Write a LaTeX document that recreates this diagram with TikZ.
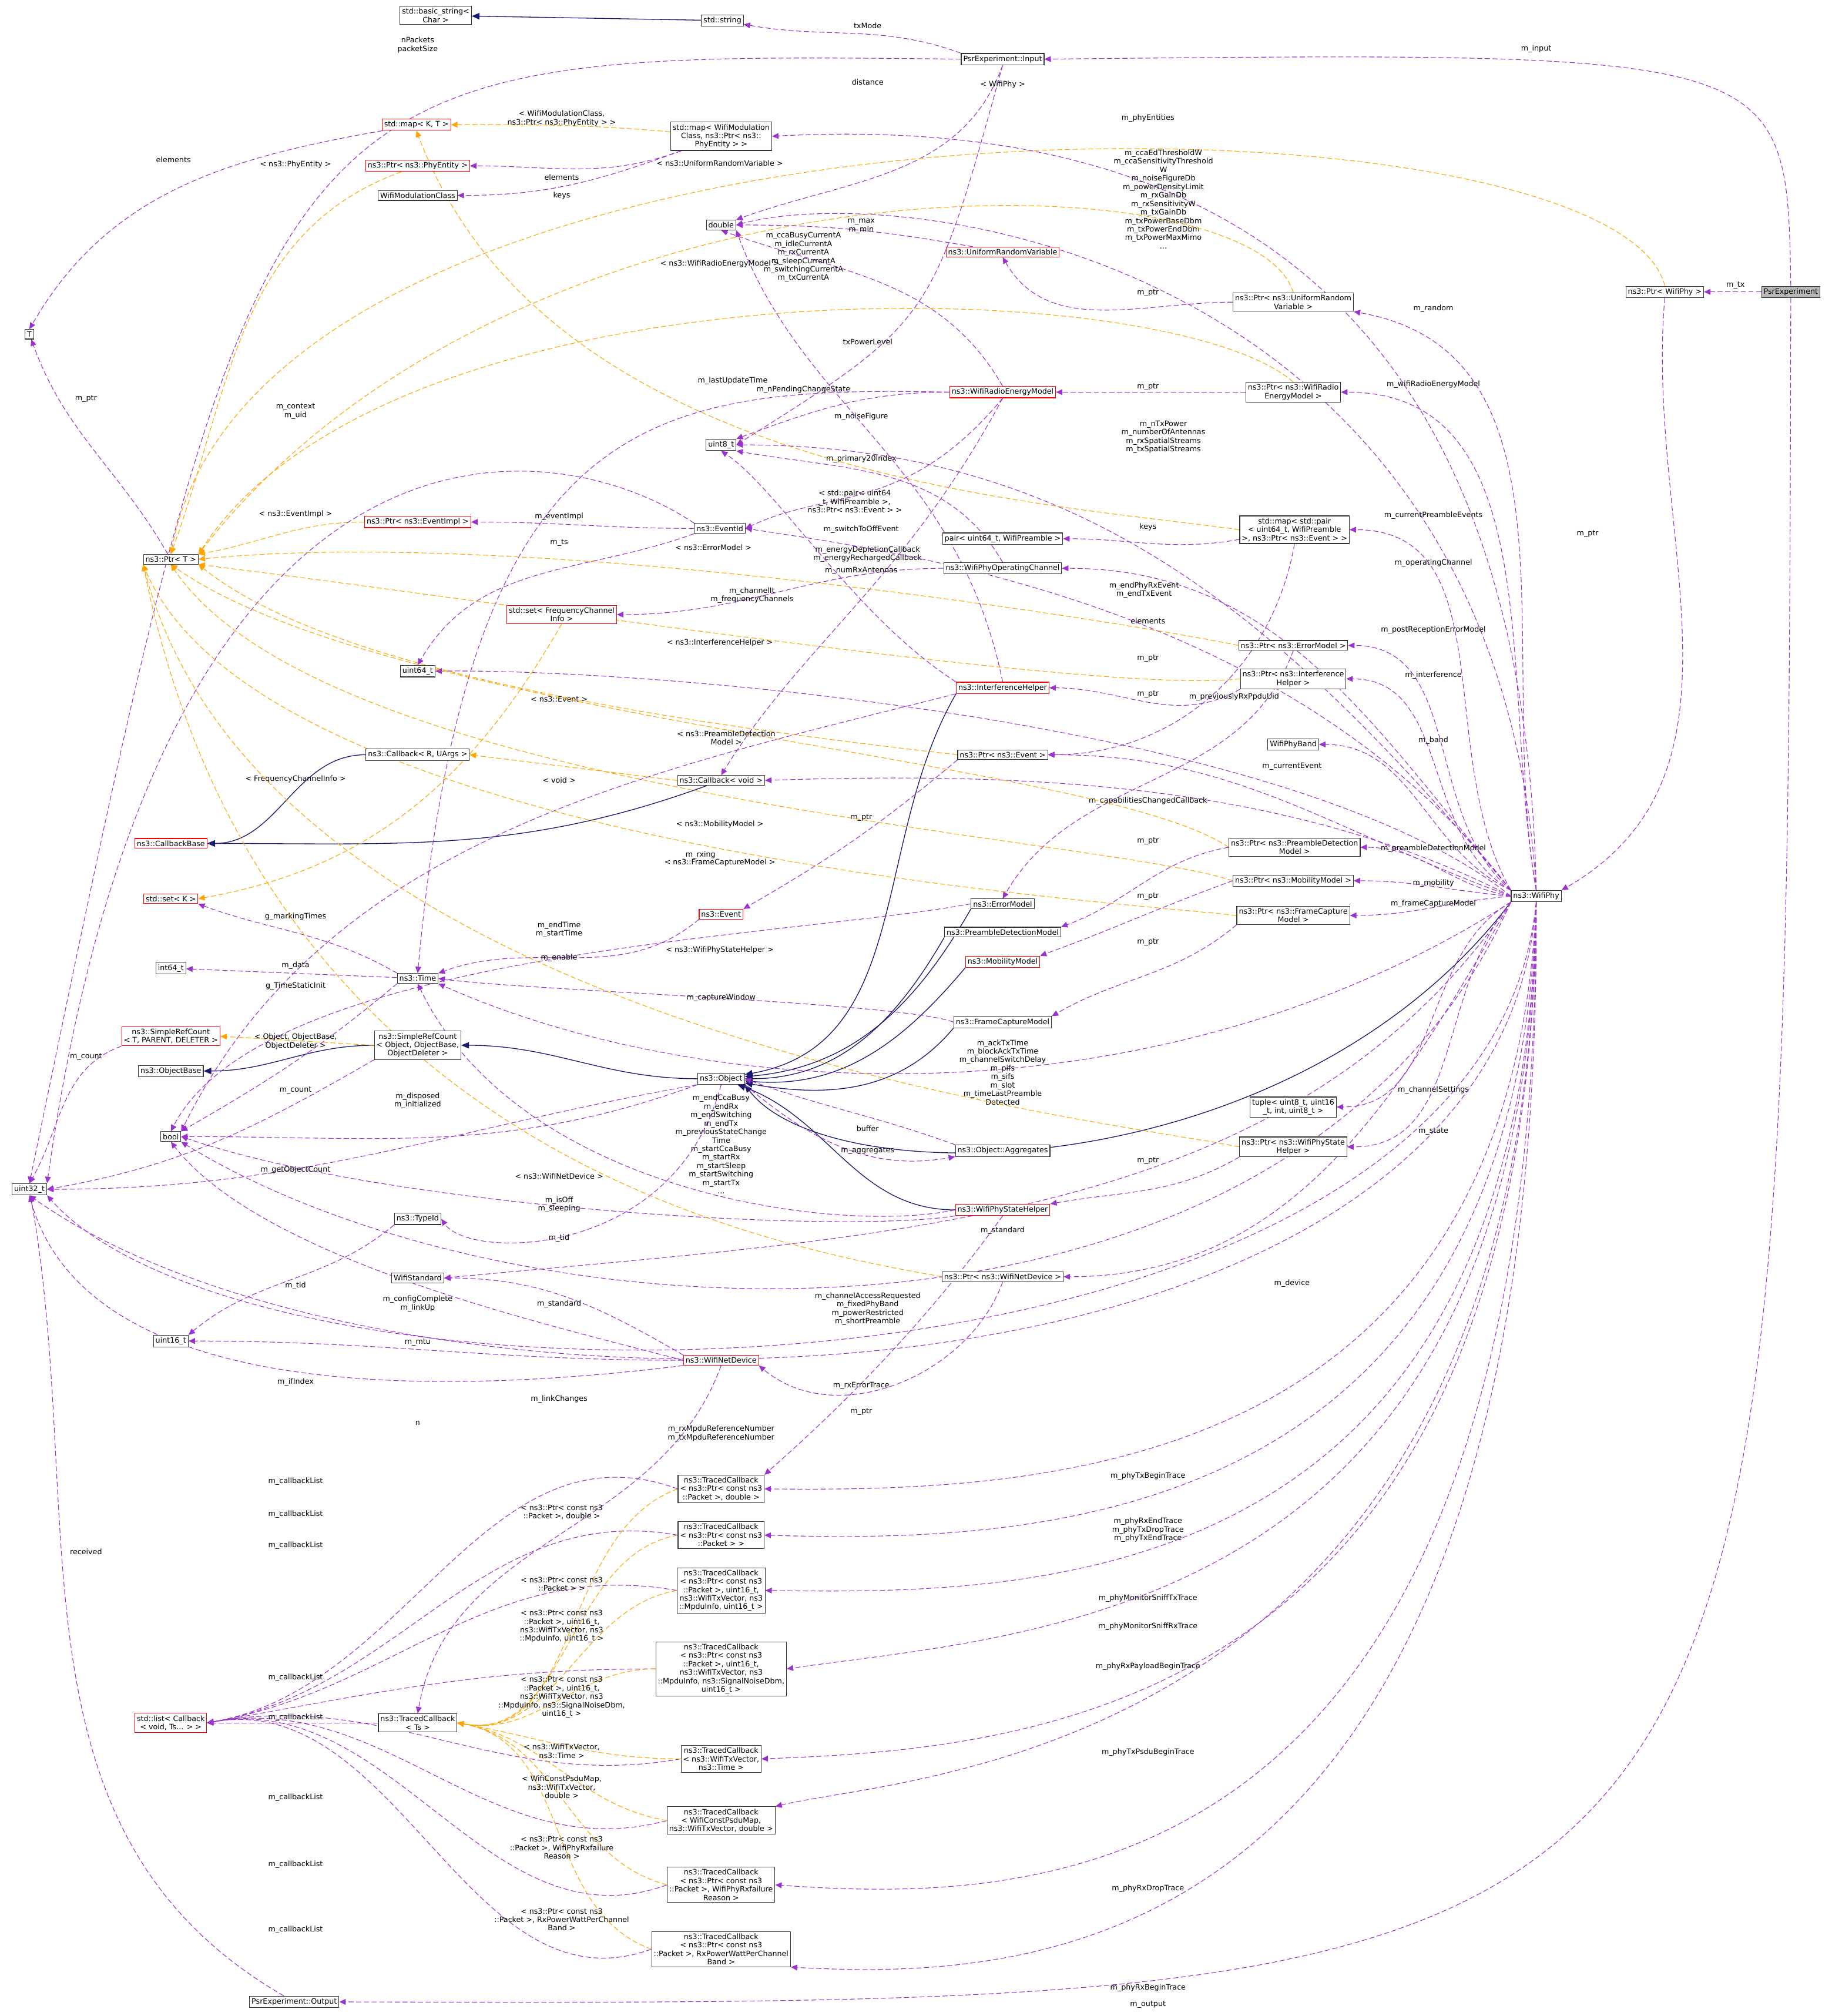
\documentclass[tikz,border=0pt]{standalone}
\usepackage{fontspec}
\setmainfont{DejaVu Sans}
\usetikzlibrary{arrows.meta}
\definecolor{pu}{HTML}{9A32CD}
\definecolor{mb}{HTML}{191970}
\definecolor{orn}{HTML}{FFA500}
\newcommand{\fs}{\fontsize{5.8}{6.6}\selectfont}
\pgfdeclarelayer{bgw}
\pgfdeclarelayer{edges}
\pgfsetlayers{bgw,edges,main}
\tikzset{
 box/.style={draw=black!80, fill=white, inner sep=1.6pt, align=center, font=\fs, line width=0.5pt},
 rbox/.style={box, draw=red},
 gbox/.style={box, fill=black!28},
 use/.style={draw=pu, dash pattern=on 4pt off 2pt, line width=0.5pt, -{Triangle[length=5pt,width=4.5pt]}},
 tm/.style={draw=orn, dash pattern=on 4pt off 2pt, line width=0.5pt, -{Triangle[length=5pt,width=4.5pt]}},
 inh/.style={draw=mb, line width=0.6pt, -{Triangle[length=6pt,width=5pt]}},
 lab/.style={font=\fs, align=center, inner sep=0pt}
}
\begin{document}
\begin{tikzpicture}[x=1pt,y=-1pt]
\begin{pgfonlayer}{bgw}
\useasboundingbox[fill=white] (0,0) rectangle (1420,1568);
\end{pgfonlayer}
% ---------- nodes
\node[box] (bstr) at (334,12) {std::basic\_string<\\Char >};
\node[box] (str) at (557,16) {std::string};
\node[box] (inp) at (775,46) {PsrExperiment::Input};
\node[box] (mapwm) at (556,106) {std::map< WifiModulation\\Class, ns3::Ptr< ns3::\\PhyEntity > >};
\node[rbox] (mapkt) at (319,97) {std::map< K, T >};
\node[rbox] (pphy) at (320,129) {ns3::Ptr< ns3::PhyEntity >};
\node[box] (wmc) at (320,152) {WifiModulationClass};
\node[box] (dbl) at (556,175) {double};
\node[rbox] (urv) at (775,196) {ns3::UniformRandomVariable};
\node[box] (purv) at (1001,235) {ns3::Ptr< ns3::UniformRandom\\Variable >};
\node[box] (T) at (18,260) {T};
\node[box] (pwp) at (1290,227) {ns3::Ptr< WifiPhy >};
\node[gbox] (psr) at (1388,227) {PsrExperiment};
\node[rbox] (wrem) at (775,305) {ns3::WifiRadioEnergyModel};
\node[box] (pwrem) at (1001,305) {ns3::Ptr< ns3::WifiRadio\\EnergyModel >};
\node[box] (u8) at (556,346) {uint8\_t};
\node[rbox] (pei) at (320,406) {ns3::Ptr< ns3::EventImpl >};
\node[box] (eid) at (555,411) {ns3::EventId};
\node[box] (mpair) at (1002,412) {std::map< std::pair\\< uint64\_t, WifiPreamble\\>, ns3::Ptr< ns3::Event > >};
\node[box] (pair) at (775,419) {pair< uint64\_t, WifiPreamble >};
\node[box] (opch) at (775,442) {ns3::WifiPhyOperatingChannel};
\node[box] (pT) at (128,435) {ns3::Ptr< T >};
\node[rbox] (sfc) at (432,478) {std::set< FrequencyChannel\\Info >};
\node[box] (pem) at (1001,502) {ns3::Ptr< ns3::ErrorModel >};
\node[box] (u64) at (320,522) {uint64\_t};
\node[box] (pih) at (1001,528) {ns3::Ptr< ns3::Interference\\Helper >};
\node[rbox] (ih) at (775,535) {ns3::InterferenceHelper};
\node[box] (band) at (1001,579) {WifiPhyBand};
\node[box] (pev) at (775,587) {ns3::Ptr< ns3::Event >};
\node[box] (cbr) at (320,587) {ns3::Callback< R, UArgs >};
\node[box] (cbv) at (556,607) {ns3::Callback< void >};
\node[rbox] (cbb) at (128,656) {ns3::CallbackBase};
\node[box] (ppd) at (1002,659) {ns3::Ptr< ns3::PreambleDetection\\Model >};
\node[box] (pmm) at (1001,685) {ns3::Ptr< ns3::MobilityModel >};
\node[box] (wp) at (1190,697) {ns3::WifiPhy};
\node[rbox] (setk) at (128,699) {std::set< K >};
\node[box] (em) at (775,703) {ns3::ErrorModel};
\node[box] (pfc) at (1001,712) {ns3::Ptr< ns3::FrameCapture\\Model >};
\node[rbox] (ev) at (556,711) {ns3::Event};
\node[box] (pdm) at (775,725) {ns3::PreambleDetectionModel};
\node[rbox] (mm) at (775,748) {ns3::MobilityModel};
\node[box] (i64) at (128,753) {int64\_t};
\node[box] (time) at (320,761) {ns3::Time};
\node[rbox] (srT) at (128,806) {ns3::SimpleRefCount\\< T, PARENT, DELETER >};
\node[box] (srO) at (320,813) {ns3::SimpleRefCount\\< Object, ObjectBase,\\ObjectDeleter >};
\node[box] (fcm) at (775,795) {ns3::FrameCaptureModel};
\node[box] (ob) at (128,833) {ns3::ObjectBase};
\node[box] (obj) at (556,839) {ns3::Object};
\node[box] (tup) at (1001,861) {tuple< uint8\_t, uint16\\\_t, int, uint8\_t >};
\node[box] (bool) at (128,884) {bool};
\node[box] (psh) at (1001,892) {ns3::Ptr< ns3::WifiPhyState\\Helper >};
\node[box] (agg) at (775,895) {ns3::Object::Aggregates};
\node[box] (u32) at (18,925) {uint32\_t};
\node[rbox] (sh) at (775,941) {ns3::WifiPhyStateHelper};
\node[box] (tid) at (320,948) {ns3::TypeId};
\node[box] (wstd) at (320,994) {WifiStandard};
\node[box] (pnd) at (775,993) {ns3::Ptr< ns3::WifiNetDevice >};
\node[box] (u16) at (128,1043) {uint16\_t};
\node[rbox] (nd) at (556,1058) {ns3::WifiNetDevice};
\node[box] (tc1) at (556,1158) {ns3::TracedCallback\\< ns3::Ptr< const ns3\\::Packet >, double >};
\node[box] (tc2) at (556,1194) {ns3::TracedCallback\\< ns3::Ptr< const ns3\\::Packet > >};
\node[box] (tc3) at (556,1237) {ns3::TracedCallback\\< ns3::Ptr< const ns3\\::Packet >, uint16\_t,\\ns3::WifiTxVector, ns3\\::MpduInfo, uint16\_t >};
\node[box] (tc4) at (556,1298) {ns3::TracedCallback\\< ns3::Ptr< const ns3\\::Packet >, uint16\_t,\\ns3::WifiTxVector, ns3\\::MpduInfo, ns3::SignalNoiseDbm,\\uint16\_t >};
\node[rbox] (lst) at (128,1340) {std::list< Callback\\< void, Ts... > >};
\node[box] (tcts) at (320,1340) {ns3::TracedCallback\\< Ts >};
\node[box] (tc5) at (556,1368) {ns3::TracedCallback\\< ns3::WifiTxVector,\\ns3::Time >};
\node[box] (tc6) at (556,1416) {ns3::TracedCallback\\< WifiConstPsduMap,\\ns3::WifiTxVector, double >};
\node[box] (tc7) at (556,1466) {ns3::TracedCallback\\< ns3::Ptr< const ns3\\::Packet >, WifiPhyRxfailure\\Reason >};
\node[box] (tc8) at (556,1516) {ns3::TracedCallback\\< ns3::Ptr< const ns3\\::Packet >, RxPowerWattPerChannel\\Band >};
\node[box] (out) at (224,1557) {PsrExperiment::Output};
\begin{pgfonlayer}{edges}
% ---------- inheritance
\draw[inh] (str) -- (bstr);
\draw[inh] (cbr) to[out=180,in=0] (cbb);
\draw[inh] (cbv) to[out=200,in=0] (cbb);
\draw[inh] (srO) to[out=180,in=0] (ob);
\draw[inh] (obj) to[out=180,in=0] (srO);
\draw[inh] (ih.south west) to[out=240,in=10] (obj);
\draw[inh] (em.south west) to[out=240,in=5] (obj);
\draw[inh] (pdm.south west) to[out=240,in=0] (obj);
\draw[inh] (mm.south west) to[out=230,in=-5] (obj);
\draw[inh] (fcm.south west) to[out=230,in=-10] (obj);
\draw[inh] (sh.west) to[out=180,in=-20] (obj);
\draw[inh] (wp.south west) .. controls (1000,925) and (640,930) .. (obj.south east);
% ---------- PsrExperiment
\draw[use] (psr.north) .. controls (1385,40) .. (inp.east);
\node[lab] at (1190,38) {m\_input};
\draw[use] (psr) -- (pwp);
\node[lab] at (1345,222) {m\_tx};
\draw[use] (psr.south) .. controls (1385,1560) .. (out.east);
\node[lab] at (888,1559) {m\_output};
\draw[use] (out) to[out=150,in=280] (u32);
\node[lab] at (62,1207) {received};
% Input
\draw[use] (inp.north west) to[out=160,in=-10] (str);
\node[lab] at (670,20) {txMode};
\draw[use] (inp.west) .. controls (200,40) .. (u32.north);
\node[lab] at (320,35) {nPackets\\packetSize};
\draw[use] (inp.south) to[out=250,in=20] (dbl.north east);
\node[lab] at (670,64) {distance};
\draw[use] (inp.south) .. controls (720,250) .. (u8.east);
\node[lab] at (670,266) {txPowerLevel};
% PtrWifiPhy
\draw[use] (pwp.south) to[out=265,in=30] (wp.north east);
\node[lab] at (1230,415) {m\_ptr};
\draw[tm] (pwp.north) .. controls (1250,60) and (200,50) .. (pT.north);
\node[lab] at (775,66) {< WifiPhy >};
% maps
\draw[use] (mapkt) to[out=190,in=60] (T.north);
\node[lab] at (130,124) {elements};
\draw[use] (mapwm) to[out=200,in=0] (wmc);
\node[lab] at (432,152) {keys};
\draw[use] (mapwm) to[out=200,in=0] (pphy);
\node[lab] at (432,138) {elements};
\draw[tm] (mapwm) to[out=175,in=0] (mapkt);
\node[lab] at (432,92) {< WifiModulationClass,\\ns3::Ptr< ns3::PhyEntity > >};
\draw[tm] (pphy) to[out=200,in=70] (pT.north);
\node[lab] at (225,128) {< ns3::PhyEntity >};
\draw[use] (pT) to[out=120,in=-70] (T);
\node[lab] at (62,310) {m\_ptr};
% WifiPhy members
\draw[use] (wp.north) .. controls (1180,200) and (900,90) .. (mapwm.east);
\node[lab] at (888,92) {m\_phyEntities};
\draw[use] (wp.north) .. controls (1160,200) and (700,140) .. (dbl.east);
\node[lab] at (900,155) {m\_ccaEdThresholdW\\m\_ccaSensitivityThreshold\\W\\m\_noiseFigureDb\\m\_powerDensityLimit\\m\_rxGainDb\\m\_rxSensitivityW\\m\_txGainDb\\m\_txPowerBaseDbm\\m\_txPowerEndDbm\\m\_txPowerMaxMimo\\...};
\draw[use] (wp.north) to[out=100,in=-10] (purv.south east);
\node[lab] at (1110,240) {m\_random};
\draw[use] (purv.west) to[out=180,in=-60] (urv.south);
\node[lab] at (888,228) {m\_ptr};
\draw[tm] (purv.north) .. controls (970,120) and (400,110) .. (pT.north east);
\node[lab] at (555,127) {< ns3::UniformRandomVariable >};
\draw[use] (urv) to[out=170,in=0] (dbl);
\node[lab] at (665,176) {m\_max\\m\_min};
\draw[use] (wp.north) to[out=100,in=0] (pwrem.east);
\node[lab] at (1110,299) {m\_wifiRadioEnergyModel};
\draw[use] (pwrem) -- (wrem);
\node[lab] at (888,301) {m\_ptr};
\draw[tm] (pwrem.north) .. controls (900,210) and (300,200) .. (pT.north east);
\node[lab] at (555,205) {< ns3::WifiRadioEnergyModel >};
\draw[use] (wrem.north) to[out=120,in=-20] (dbl.south);
\node[lab] at (620,200) {m\_ccaBusyCurrentA\\m\_idleCurrentA\\m\_rxCurrentA\\m\_sleepCurrentA\\m\_switchingCurrentA\\m\_txCurrentA};
\draw[use] (wrem.west) to[out=180,in=20] (u8.north east);
\node[lab] at (620,303) {m\_nPendingChangeState};
\draw[use] (wrem.west) .. controls (500,300) and (360,320) .. (time.north);
\node[lab] at (565,296) {m\_lastUpdateTime};
\draw[use] (wrem.south) .. controls (700,400) and (640,380) .. (eid.east);
\node[lab] at (665,412) {m\_switchToOffEvent};
\draw[use] (wrem.south) .. controls (700,450) and (620,500) .. (cbv.north);
\node[lab] at (670,431) {m\_energyDepletionCallback\\m\_energyRechargedCallback};
\draw[use] (wp.north west) to[out=130,in=0] (u8.east);
\node[lab] at (900,340) {m\_nTxPower\\m\_numberOfAntennas\\m\_rxSpatialStreams\\m\_txSpatialStreams};
\draw[use] (wp.north west) to[out=120,in=0] (mpair.east);
\node[lab] at (1110,401) {m\_currentPreambleEvents};
\draw[use] (mpair) to[out=190,in=0] (pair);
\node[lab] at (888,410) {keys};
\draw[use] (mpair.south) to[out=260,in=0] (pev.east);
\node[lab] at (888,483) {elements};
\draw[tm] (mpair.west) .. controls (800,390) and (420,370) .. (mapkt.south);
\node[lab] at (660,390) {< std::pair< uint64\\\_t, WifiPreamble >,\\ns3::Ptr< ns3::Event > >};
\draw[use] (wp.north west) to[out=130,in=0] (opch.east);
\node[lab] at (1110,438) {m\_operatingChannel};
\draw[use] (opch.north) to[out=120,in=-10] (u8.south east);
\node[lab] at (665,357) {m\_primary20Index};
\draw[use] (opch.west) to[out=180,in=0] (sfc.east);
\node[lab] at (580,463) {m\_channelIt\\m\_frequencyChannels};
\draw[use] (wp.north west) .. controls (1000,470) and (700,430) .. (eid.east);
\node[lab] at (885,459) {m\_endPhyRxEvent\\m\_endTxEvent};
\draw[use] (eid) to[out=180,in=0] (pei);
\node[lab] at (430,402) {m\_eventImpl};
\draw[tm] (pei) to[out=180,in=10] (pT.north east);
\node[lab] at (225,400) {< ns3::EventImpl >};
\draw[use] (eid.north west) .. controls (420,330) and (120,300) .. (u32.north east);
\node[lab] at (225,320) {m\_context\\m\_uid};
\draw[use] (eid.south west) to[out=200,in=60] (u64.north);
\node[lab] at (430,422) {m\_ts};
\draw[use] (wp.north west) to[out=140,in=0] (pem.east);
\node[lab] at (1110,490) {m\_postReceptionErrorModel};
\draw[use] (pem.south) to[out=250,in=60] (em.north);
\node[lab] at (888,512) {m\_ptr};
\draw[tm] (pem.west) .. controls (850,480) and (400,410) .. (pT.east);
\node[lab] at (550,426) {< ns3::ErrorModel >};
\draw[use] (wp.north west) to[out=150,in=0] (pih.east);
\node[lab] at (1110,525) {m\_interference};
\draw[use] (pih.south west) to[out=210,in=0] (ih.east);
\node[lab] at (888,540) {m\_ptr};
\draw[tm] (pih.west) .. controls (850,540) and (400,470) .. (pT.south east);
\node[lab] at (555,500) {< ns3::InterferenceHelper >};
\draw[use] (ih.north) .. controls (740,360) and (620,320) .. (dbl.south east);
\node[lab] at (665,324) {m\_noiseFigure};
\draw[use] (ih.north west) .. controls (660,480) and (600,380) .. (u8.south);
\node[lab] at (665,444) {m\_numRxAntennas};
\draw[use] (ih.south west) .. controls (500,600) and (250,650) .. (bool.north east);
\node[lab] at (540,665) {m\_rxing};
\draw[use] (wp.west) .. controls (1000,560) and (500,520) .. (u64.east);
\node[lab] at (955,542) {m\_previouslyRxPpduUid};
\draw[use] (wp.north west) to[out=155,in=0] (band.east);
\node[lab] at (1110,576) {m\_band};
\draw[use] (wp.west) to[out=160,in=0] (pev.east);
\node[lab] at (1000,596) {m\_currentEvent};
\draw[use] (pev.south west) to[out=220,in=30] (ev.north east);
\node[lab] at (665,636) {m\_ptr};
\draw[tm] (pev.west) .. controls (500,560) and (250,520) .. (pT.south east);
\node[lab] at (430,544) {< ns3::Event >};
\draw[use] (wp.west) .. controls (1000,610) and (800,600) .. (cbv.east);
\node[lab] at (888,623) {m\_capabilitiesChangedCallback};
\draw[tm] (cbv.west) -- (cbr.east);
\node[lab] at (430,607) {< void >};
\draw[tm] (sfc.south) to[out=240,in=10] (setk.east);
\node[lab] at (225,606) {< FrequencyChannelInfo >};
\draw[use] (wp.west) to[out=170,in=0] (ppd.east);
\node[lab] at (1110,660) {m\_preambleDetectionModel};
\draw[use] (ppd.west) to[out=190,in=20] (pdm.north east);
\node[lab] at (888,654) {m\_ptr};
\draw[tm] (ppd.west) .. controls (850,590) and (300,560) .. (pT.south);
\node[lab] at (560,574) {< ns3::PreambleDetection\\Model >};
\draw[use] (wp.west) to[out=175,in=0] (pmm.east);
\node[lab] at (1110,687) {m\_mobility};
\draw[use] (pmm.west) to[out=200,in=20] (mm.north east);
\node[lab] at (888,697) {m\_ptr};
\draw[tm] (pmm.west) .. controls (850,650) and (250,620) .. (pT.south);
\node[lab] at (555,641) {< ns3::MobilityModel >};
\draw[use] (wp.west) to[out=185,in=0] (pfc.east);
\node[lab] at (1110,703) {m\_frameCaptureModel};
\draw[use] (pfc.south west) to[out=220,in=30] (fcm.north east);
\node[lab] at (888,733) {m\_ptr};
\draw[tm] (pfc.west) .. controls (850,700) and (200,660) .. (pT.south west);
\node[lab] at (555,671) {< ns3::FrameCaptureModel >};
\draw[use] (fcm.west) .. controls (700,780) and (400,770) .. (time.east);
\node[lab] at (556,776) {m\_captureWindow};
\draw[use] (ev.south west) to[out=220,in=20] (time.north east);
\node[lab] at (430,723) {m\_endTime\\m\_startTime};
\draw[use] (em.west) .. controls (600,730) and (200,740) .. (bool.north);
\node[lab] at (430,745) {m\_enable};
\draw[use] (wp.south west) .. controls (900,875) and (550,860) .. (time.south east);
\node[lab] at (775,834) {m\_ackTxTime\\m\_blockAckTxTime\\m\_channelSwitchDelay\\m\_pifs\\m\_sifs\\m\_slot\\m\_timeLastPreamble\\Detected};
\draw[use] (time) -- (i64);
\node[lab] at (225,751) {m\_data};
\draw[use] (time.north west) to[out=150,in=-20] (setk.south east);
\node[lab] at (225,713) {g\_markingTimes};
\draw[use] (time.south west) to[out=220,in=30] (bool.north east);
\node[lab] at (225,767) {g\_TimeStaticInit};
\draw[tm] (srO.west) -- (srT.east);
\node[lab] at (225,810) {< Object, ObjectBase,\\ObjectDeleter >};
\draw[use] (srO.south west) to[out=210,in=10] (u32.east);
\node[lab] at (225,848) {m\_count};
\draw[use] (srT.south west) to[out=200,in=60] (u32.north);
\node[lab] at (62,822) {m\_count};
\draw[use] (obj.south west) to[out=200,in=0] (bool.east);
\node[lab] at (320,856) {m\_disposed\\m\_initialized};
\draw[use] (obj.south west) to[out=190,in=0] (u32.east);
\node[lab] at (225,910) {m\_getObjectCount};
\draw[use] (obj.south east) to[out=-40,in=190] (agg.south west);
\node[lab] at (670,895) {m\_aggregates};
\draw[use] (agg.north west) to[out=160,in=-20] (obj.east);
\node[lab] at (670,878) {buffer};
\draw[use] (obj.south) .. controls (520,980) and (360,980) .. (tid.east);
\node[lab] at (430,963) {m\_tid};
\draw[use] (tid.south west) to[out=220,in=40] (u16.north east);
\node[lab] at (225,1000) {m\_tid};
\draw[use] (wp.south west) to[out=210,in=0] (tup.east);
\node[lab] at (1110,848) {m\_channelSettings};
\draw[use] (wp.south west) to[out=230,in=0] (psh.east);
\node[lab] at (1110,880) {m\_state};
\draw[use] (psh.south west) to[out=210,in=10] (sh.north east);
\node[lab] at (888,903) {m\_ptr};
\draw[tm] (psh.west) .. controls (850,870) and (200,800) .. (pT.south west);
\node[lab] at (555,739) {< ns3::WifiPhyStateHelper >};
\draw[use] (sh.west) .. controls (650,960) and (400,930) .. (time.south);
\node[lab] at (556,890) {m\_endCcaBusy\\m\_endRx\\m\_endSwitching\\m\_endTx\\m\_previousStateChange\\Time\\m\_startCcaBusy\\m\_startRx\\m\_startSleep\\m\_startSwitching\\m\_startTx\\...};
\draw[use] (sh.south west) .. controls (650,960) and (300,940) .. (bool.east);
\node[lab] at (430,937) {m\_isOff\\m\_sleeping};
\draw[use] (sh.south) .. controls (700,1050) and (620,1120) .. (tc1.north east);
\node[lab] at (665,1078) {m\_rxErrorTrace};
\draw[use] (wp.south west) .. controls (1000,950) and (700,960) .. (wstd.east);
\node[lab] at (775,957) {m\_standard};
\draw[use] (nd.north west) to[out=150,in=0] (wstd.east);
\node[lab] at (430,1014) {m\_standard};
\draw[use] (wp.south west) to[out=240,in=0] (pnd.east);
\node[lab] at (1000,998) {m\_device};
\draw[use] (pnd.south) to[out=250,in=-40] (nd.south east);
\node[lab] at (665,1098) {m\_ptr};
\draw[tm] (pnd.west) .. controls (600,970) and (200,900) .. (pT.south west);
\node[lab] at (430,915) {< ns3::WifiNetDevice >};
\draw[use] (wp.south west) .. controls (1000,1080) and (400,1050) .. (bool.south east);
\node[lab] at (670,1018) {m\_channelAccessRequested\\m\_fixedPhyBand\\m\_powerRestricted\\m\_shortPreamble};
\draw[use] (nd.west) .. controls (420,1030) and (200,980) .. (bool.south);
\node[lab] at (320,1014) {m\_configComplete\\m\_linkUp};
\draw[use] (nd.west) to[out=180,in=0] (u16.east);
\node[lab] at (320,1044) {m\_mtu};
\draw[use] (nd.south west) .. controls (300,1090) and (60,1080) .. (u32.south);
\node[lab] at (225,1075) {m\_ifIndex};
\draw[use] (nd.south) to[out=250,in=80] (tcts.north);
\node[lab] at (430,1088) {m\_linkChanges};
\draw[use] (wp.south) .. controls (1150,1110) and (200,1120) .. (u32.south east);
\node[lab] at (320,1107) {n};
\draw[use] (wp.south) .. controls (1160,1120) and (300,1130) .. (u32.south);
\node[lab] at (556,1115) {m\_rxMpduReferenceNumber\\m\_txMpduReferenceNumber};
% traced callbacks
\draw[use] (wp.south) .. controls (1170,1150) and (800,1160) .. (tc1.east);
\node[lab] at (888,1148) {m\_phyTxBeginTrace};
\draw[use] (wp.south) .. controls (1175,1190) and (800,1200) .. (tc2.east);
\node[lab] at (888,1190) {m\_phyRxEndTrace\\m\_phyTxDropTrace\\m\_phyTxEndTrace};
\draw[use] (wp.south) .. controls (1180,1240) and (800,1240) .. (tc3.east);
\node[lab] at (888,1243) {m\_phyMonitorSniffTxTrace};
\draw[use] (wp.south) .. controls (1182,1260) and (800,1270) .. (tc4.east);
\node[lab] at (888,1265) {m\_phyMonitorSniffRxTrace};
\draw[use] (wp.south) .. controls (1185,1330) and (800,1360) .. (tc5.east);
\node[lab] at (888,1296) {m\_phyRxPayloadBeginTrace};
\draw[use] (wp.south) .. controls (1185,1370) and (700,1380) .. (tc6.north east);
\node[lab] at (888,1363) {m\_phyTxPsduBeginTrace};
\draw[use] (wp.south) .. controls (1190,1480) and (800,1480) .. (tc7.east);
\node[lab] at (888,1469) {m\_phyRxDropTrace};
\draw[use] (wp.south) .. controls (1195,1530) and (800,1540) .. (tc8.south east);
\node[lab] at (888,1546) {m\_phyRxBeginTrace};
\foreach \t/\a in {tc1/160,tc2/170,tc3/170,tc4/180,tc5/190,tc6/195,tc7/200,tc8/200}
  \draw[use] (\t.west) to[out=\a,in=10] (lst.east);
\draw[use] (tcts) -- (lst);
\node[lab] at (225,1152) {m\_callbackList};
\node[lab] at (225,1178) {m\_callbackList};
\node[lab] at (225,1202) {m\_callbackList};
\node[lab] at (225,1305) {m\_callbackList};
\node[lab] at (225,1336) {m\_callbackList};
\node[lab] at (225,1398) {m\_callbackList};
\node[lab] at (225,1450) {m\_callbackList};
\node[lab] at (225,1501) {m\_callbackList};
\foreach \t/\a in {tc1/200,tc2/190,tc3/190,tc4/180,tc5/180,tc6/170,tc7/165,tc8/160}
  \draw[tm] (\t.west) to[out=\a,in=-10] (tcts.east);
\node[lab] at (432,1176) {< ns3::Ptr< const ns3\\::Packet >, double >};
\node[lab] at (432,1232) {< ns3::Ptr< const ns3\\::Packet > >};
\node[lab] at (432,1265) {< ns3::Ptr< const ns3\\::Packet >, uint16\_t,\\ns3::WifiTxVector, ns3\\::MpduInfo, uint16\_t >};
\node[lab] at (432,1320) {< ns3::Ptr< const ns3\\::Packet >, uint16\_t,\\ns3::WifiTxVector, ns3\\::MpduInfo, ns3::SignalNoiseDbm,\\uint16\_t >};
\node[lab] at (432,1362) {< ns3::WifiTxVector,\\ns3::Time >};
\node[lab] at (432,1390) {< WifiConstPsduMap,\\ns3::WifiTxVector,\\double >};
\node[lab] at (432,1437) {< ns3::Ptr< const ns3\\::Packet >, WifiPhyRxfailure\\Reason >};
\node[lab] at (432,1493) {< ns3::Ptr< const ns3\\::Packet >, RxPowerWattPerChannel\\Band >};
\end{pgfonlayer}
\end{tikzpicture}
\end{document}
